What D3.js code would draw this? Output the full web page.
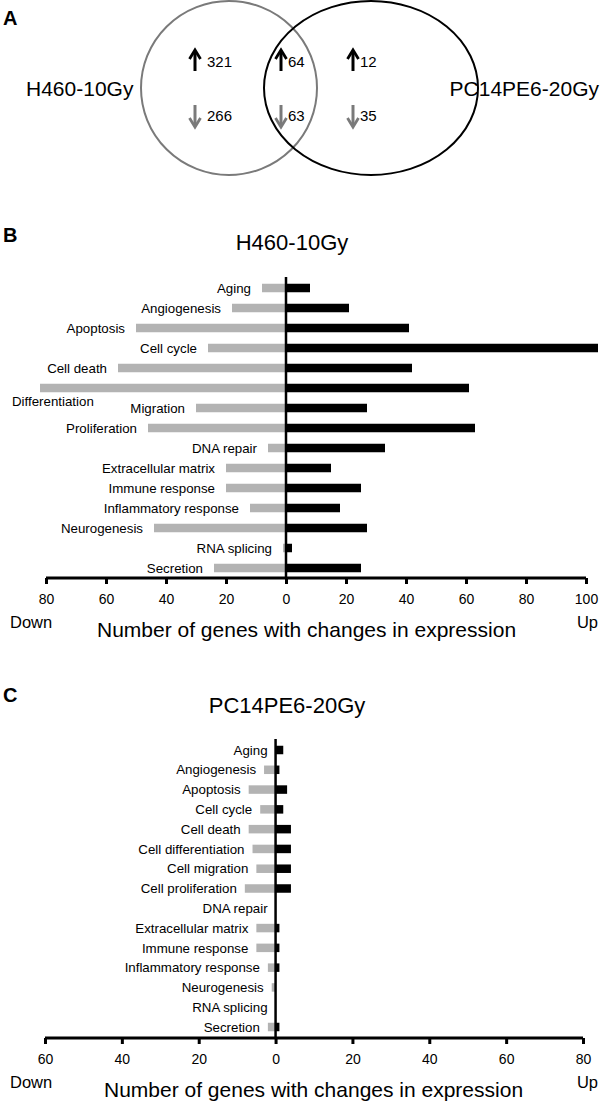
<!DOCTYPE html>
<html><head><meta charset="utf-8">
<script src="https://cdnjs.cloudflare.com/ajax/libs/d3/7.8.5/d3.min.js"></script>
<style>
body{margin:0;background:#fff;}
svg{display:block;font-family:"Liberation Sans",Arial,sans-serif;}
</style></head>
<body><svg id="c" width="600" height="1102"></svg>
<script>
// ---- data ----
const vennSets = ["H460-10Gy", "PC14PE6-20Gy"];
const vennUp = [321, 64, 12];
const vennDown = [266, 63, 35];

const categoriesB = ["Aging","Angiogenesis","Apoptosis","Cell cycle","Cell death","Differentiation","Migration","Proliferation","DNA repair","Extracellular matrix","Immune response","Inflammatory response","Neurogenesis","RNA splicing","Secretion"];
const downB = [8,18,50,26,56,82,30,46,6,20,20,12,44,1,24];
const upB   = [8,21,41,104,42,61,27,63,33,15,25,18,27,2,25];

const categoriesC = ["Aging","Angiogenesis","Apoptosis","Cell cycle","Cell death","Cell differentiation","Cell migration","Cell proliferation","DNA repair","Extracellular matrix","Immune response","Inflammatory response","Neurogenesis","RNA splicing","Secretion"];
const downC = [0,3,7,4,7,6,5,8,0,5,5,2,1,0,2];
const upC   = [2,1,3,2,4,4,4,4,0,1,1,1,0,0,1];

const ticksB = [-80,-60,-40,-20,0,20,40,60,80,100];
const ticksC = [-60,-40,-20,0,20,40,60,80];
const axisTitle = "Number of genes with changes in expression";

const svg = d3.select("#c");
const GREY = "#b3b3b3";

// ---- panel letters ----
[["A",25],["B",242],["C",702]].forEach(([t,y])=>{
  svg.append("text").attr("x",3).attr("y",y).attr("font-size",20).attr("font-weight","bold").text(t);
});

// ---- Venn ----
const venn = svg.append("g");
venn.append("ellipse").attr("cx",229).attr("cy",88).attr("rx",88).attr("ry",87)
  .attr("fill","none").attr("stroke","#7a7a7a").attr("stroke-width",2);
venn.append("ellipse").attr("cx",371).attr("cy",88).attr("rx",107).attr("ry",87)
  .attr("fill","none").attr("stroke","#000").attr("stroke-width",2);
venn.append("text").attr("x",26).attr("y",96).attr("font-size",21).text(vennSets[0]);
venn.append("text").attr("x",599).attr("y",96).attr("font-size",21).attr("text-anchor","end").text(vennSets[1]);

const arrowX = [195, 281, 353];
function arrow(g, x, y0, y1, color){
  const dir = y1 > y0 ? 1 : -1;
  g.append("line").attr("x1",x).attr("x2",x).attr("y1",y0+dir*2).attr("y2",y1)
    .attr("stroke",color).attr("stroke-width",3);
  g.append("path").attr("d",`M${x-5.5},${y0+dir*9} L${x},${y0} L${x+5.5},${y0+dir*9}`)
    .attr("fill","none").attr("stroke",color).attr("stroke-width",2.8).attr("stroke-linejoin","miter");
}
vennUp.forEach((v,i)=>{
  arrow(venn, arrowX[i], 50, 71, "#000");
  venn.append("text").attr("x",arrowX[i]+ (i===0?12:7)).attr("y",67).attr("font-size",15).text(v);
});
vennDown.forEach((v,i)=>{
  arrow(venn, arrowX[i], 127, 105, "#7a7a7a");
  venn.append("text").attr("x",arrowX[i]+ (i===0?12:7)).attr("y",121).attr("font-size",15).text(v);
});

// ---- bar panels ----
function panel(cfg){
  const g = svg.append("g");
  const x = d3.scaleLinear().domain(cfg.domain).range(cfg.xr);
  const y = d3.scalePoint().domain(cfg.cats).range(cfg.yr);
  const bh = 8.5;
  g.append("text").attr("x",cfg.titleX).attr("y",cfg.titleY).attr("font-size",22)
    .attr("text-anchor","middle").text(cfg.title);
  g.selectAll(".dn").data(cfg.cats).join("rect")
    .attr("x",(d,i)=>x(-cfg.down[i])).attr("width",(d,i)=>x(0)-x(-cfg.down[i]))
    .attr("y",d=>y(d)-bh/2).attr("height",bh).attr("fill",GREY);
  g.selectAll(".up").data(cfg.cats).join("rect")
    .attr("x",x(0)).attr("width",(d,i)=>x(cfg.up[i])-x(0))
    .attr("y",d=>y(d)-bh/2).attr("height",bh).attr("fill","#000");
  cfg.cats.forEach((c,i)=>{
    const right = x(-cfg.down[i]) - cfg.gap;
    const t = g.append("text").attr("font-size",13.3).attr("text-anchor","end")
      .attr("x",right).attr("y",y(c)).attr("dy","0.35em").text(c);
    const w = t.node().getComputedTextLength();
    if (right - w < 6) {
      t.attr("text-anchor","start").attr("x",12).attr("y",y(c)+13);
    }
  });
  g.append("line").attr("x1",x(0)).attr("x2",x(0)).attr("y1",cfg.yr[0]-11).attr("y2",cfg.axisY)
    .attr("stroke","#000").attr("stroke-width",2.5);
  const ax = g.append("g").attr("transform",`translate(0,${cfg.axisY})`)
    .call(d3.axisBottom(x).tickValues(cfg.ticks).tickFormat(d=>Math.abs(d)).tickSize(6).tickSizeOuter(0).tickPadding(10));
  ax.select(".domain").attr("stroke-width",3).attr("d",`M${cfg.xr[0]},0H${cfg.xr[1]}`);
  ax.selectAll(".tick line").attr("stroke-width",3);
  ax.selectAll(".tick text").attr("font-size",14).attr("font-family","Liberation Sans, Arial, sans-serif").attr("fill","#000");
  g.append("text").attr("x",10).attr("y",cfg.axisY+50).attr("font-size",16.5).text("Down");
  g.append("text").attr("x",598).attr("y",cfg.axisY+50).attr("font-size",16.5).attr("text-anchor","end").text("Up");
  g.append("text").attr("x",cfg.labX).attr("y",cfg.axisY+59).attr("font-size",21).text(axisTitle);
}

panel({title:"H460-10Gy", titleX:292, titleY:250, cats:categoriesB, down:downB, up:upB,
  domain:[-80,100], xr:[46,586], yr:[288,568], axisY:578, ticks:ticksB, gap:11, labX:97});
panel({title:"PC14PE6-20Gy", titleX:287, titleY:713, cats:categoriesC, down:downC, up:upC,
  domain:[-60,80], xr:[45,583], yr:[750,1027], axisY:1038, ticks:ticksC, gap:8, labX:104});
</script></body></html>
